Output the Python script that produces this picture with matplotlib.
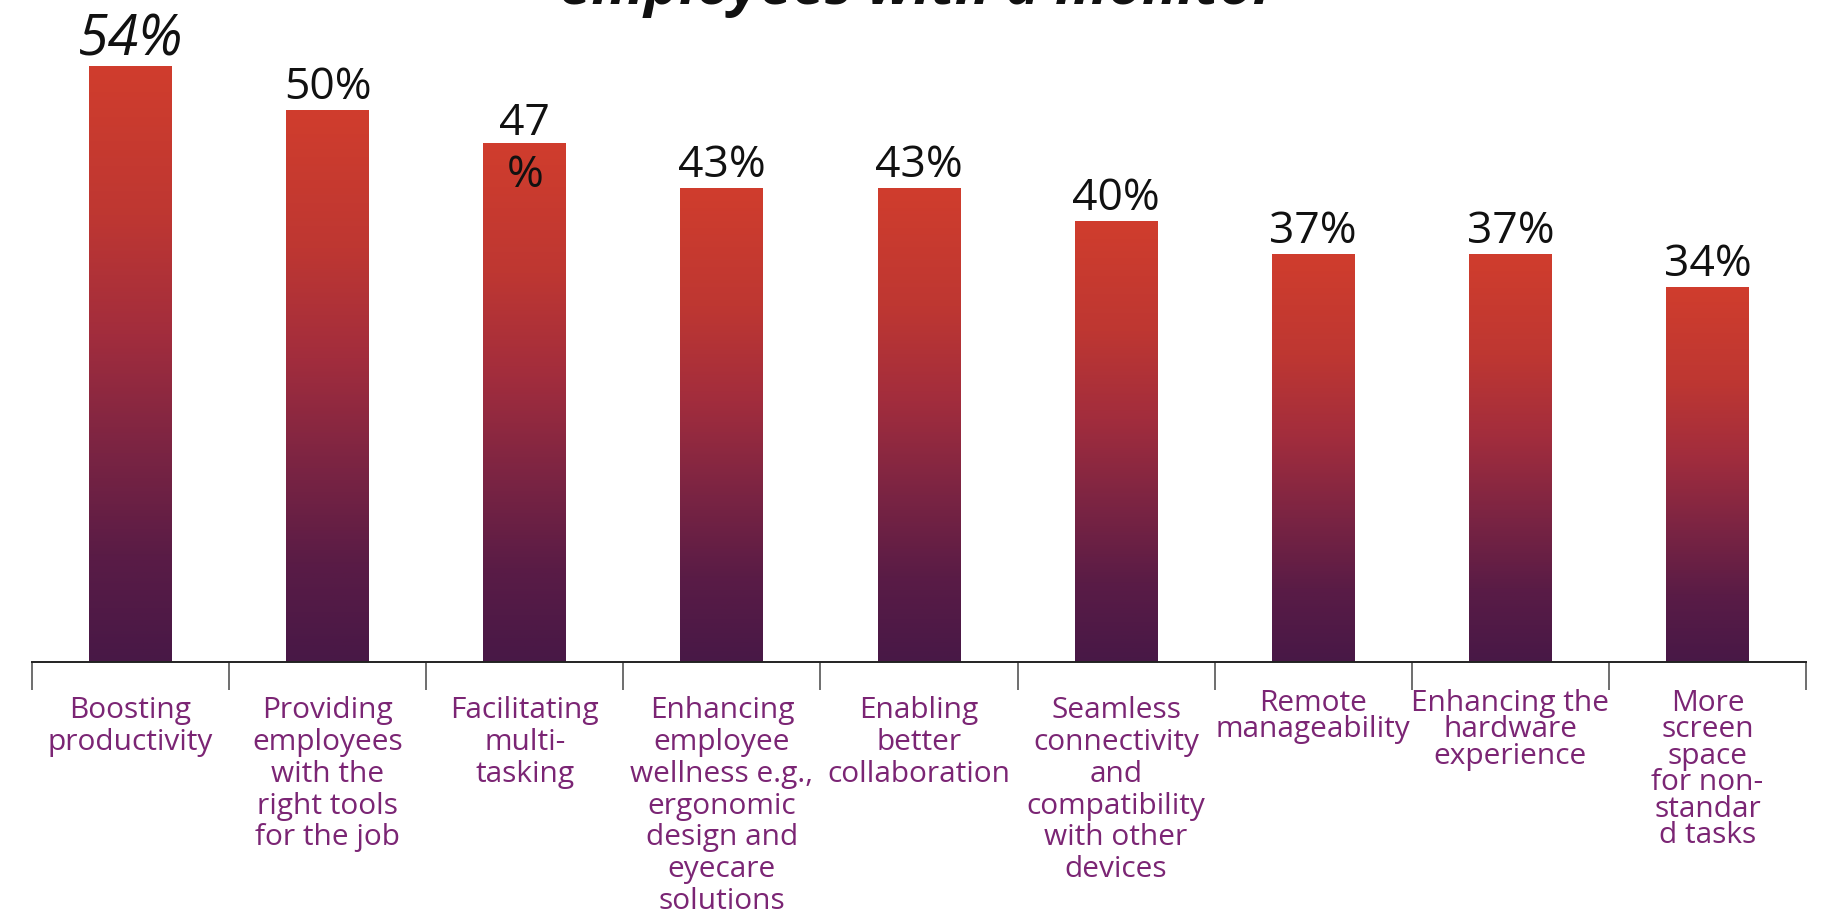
import matplotlib
matplotlib.use("Agg")
import matplotlib.pyplot as plt
import numpy as np
from matplotlib.colors import LinearSegmentedColormap

plt.rcParams['font.family'] = ['Open Sans', 'DejaVu Sans']

# data
categories = [
    "Boosting\nproductivity",
    "Providing\nemployees\nwith the\nright tools\nfor the job",
    "Facilitating\nmulti-\ntasking",
    "Enhancing\nemployee\nwellness e.g.,\nergonomic\ndesign and\neyecare\nsolutions",
    "Enabling\nbetter\ncollaboration",
    "Seamless\nconnectivity\nand\ncompatibility\nwith other\ndevices",
    "Remote\nmanageability",
    "Enhancing the\nhardware\nexperience",
    "More\nscreen\nspace\nfor non-\nstandar\nd tasks",
]
values = [54, 50, 47, 43, 43, 40, 37, 37, 34]
value_labels = ["54%", "50%", "47\n%", "43%", "43%", "40%", "37%", "37%", "34%"]
title = "employees with a monitor"

W, H, DPI = 1832, 911, 100
fig = plt.figure(figsize=(W / DPI, H / DPI), dpi=DPI)
ax = fig.add_axes([32 / W, 1 - 662 / H, 1774 / W, 662 / H])

grad = LinearSegmentedColormap.from_list(
    "bar", [(0.0, "#481846"), (0.18, "#5a1c46"), (0.35, "#7a2443"),
            (0.55, "#a22d3d"), (0.75, "#be3732"), (1.0, "#d03d2d")])

x = np.arange(len(values))
bw = 0.42
bars = ax.bar(x, values, width=bw, color="none", edgecolor="none")
g = np.linspace(0, 1, 256).reshape(-1, 1)
for b in bars:
    x0, y0 = b.get_x(), b.get_y()
    im = ax.imshow(g, cmap=grad, origin="lower", aspect="auto",
                   extent=(x0, x0 + b.get_width(), y0, y0 + b.get_height()),
                   zorder=2)
    im.set_clip_path(b)

ax.set_xlim(-0.5, len(values) - 0.5)
ax.set_ylim(0, 60)

for s in ["top", "right", "left"]:
    ax.spines[s].set_visible(False)
ax.spines["bottom"].set_color("#222222")
ax.spines["bottom"].set_linewidth(1.4)
ax.set_yticks([])
ax.set_xticks([])
ax.set_xticks(np.arange(len(values) + 1) - 0.5, minor=True)
ax.tick_params(axis="x", which="minor", length=20, width=1.2,
               color="#555555", direction="out")
ax.set_xticklabels([], minor=True)

# value labels; the first one is set larger and in italics
line_px = 55
for i, (v, lab) in enumerate(zip(values, value_labels)):
    nl = lab.count("\n")
    big = i == 0
    off = (-3 if big else 0) - nl * line_px
    ax.annotate(lab, (x[i], v), xytext=(0, off * 0.72),
                textcoords="offset points", ha="center", va="bottom",
                fontsize=40 if big else 32, style="italic" if big else "normal",
                color="#111111", linespacing=1.24)

# category labels
tight = {6, 7, 8}
for i, lab in enumerate(categories):
    t = i in tight
    ax.annotate(lab, (x[i], 0), xytext=(0, -19.5 if t else -24.5),
                textcoords="offset points", ha="center", va="top",
                fontsize=21.5, color="#7b2574",
                linespacing=0.88 if t else 1.13)

fig.text(918 / W, 1 - 4 / H, title, ha="center", va="baseline",
         fontsize=42, fontweight="bold", style="italic", color="#111111")

fig.savefig("out.png", dpi=DPI)
